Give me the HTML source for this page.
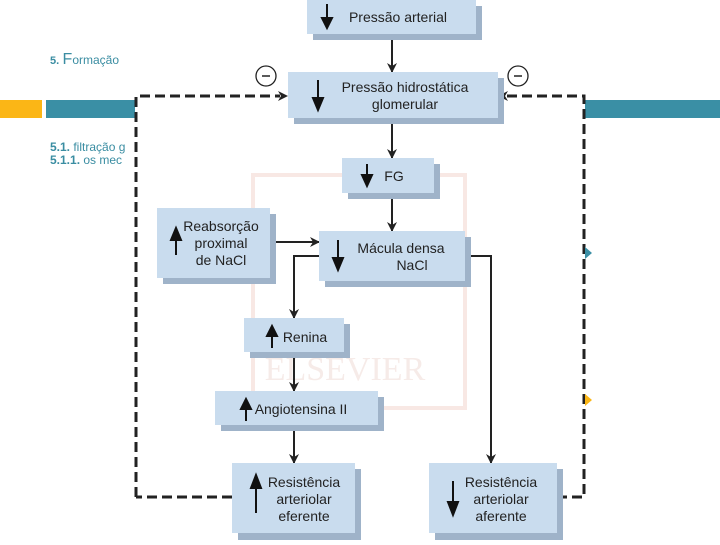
<!DOCTYPE html>
<html><head><meta charset="utf-8"><style>
body{margin:0;width:720px;height:540px;overflow:hidden;background:#fff;font-family:"Liberation Sans",sans-serif}
</style></head><body>
<svg width="720" height="540" xmlns="http://www.w3.org/2000/svg" font-family="Liberation Sans, sans-serif">
<defs>
<marker id="a" markerWidth="10" markerHeight="10" refX="9" refY="5" orient="auto" markerUnits="userSpaceOnUse"><path d="M0,0 L10,5 L0,10 L3,5 Z" fill="#222"/></marker>
</defs>
<text x="50" y="64" fill="#3a8da2" font-size="12"><tspan font-weight="bold" font-size="11">5.</tspan> <tspan font-size="16">F</tspan>ormação</text>
<rect x="0" y="100" width="42" height="18" fill="#fbb616"/>
<rect x="46" y="100" width="89" height="18" fill="#3a8fa5"/>
<rect x="585" y="100" width="135" height="18" fill="#3a8fa5"/>
<text x="50" y="151" fill="#3a8da2" font-size="12"><tspan font-weight="bold">5.1.</tspan> filtração g</text>
<text x="50" y="164" fill="#3a8da2" font-size="12"><tspan font-weight="bold">5.1.1.</tspan> os mec</text>
<rect x="253" y="175" width="212" height="233" fill="none" stroke="#f8e8e4" stroke-width="4"/>
<text x="345" y="380" fill="#f6ebe8" font-size="34" font-family="Liberation Serif, serif" text-anchor="middle">ELSEVIER</text>
<g fill="none" stroke="#222" stroke-width="3" stroke-dasharray="10,5">
<path d="M136,497 V96 H280"/>
<path d="M232,497 H136"/>
<path d="M557,497 H584 V96 H506"/>
</g>
<path d="M278,91 L288,96 L278,101 L281,96Z" fill="#222"/>
<path d="M508,91 L498,96 L508,101 L505,96Z" fill="#222"/>
<circle cx="266" cy="76" r="10" fill="#fff" stroke="#222" stroke-width="1.3"/><line x1="262" y1="76" x2="270" y2="76" stroke="#222" stroke-width="1.5"/>
<circle cx="518" cy="76" r="10" fill="#fff" stroke="#222" stroke-width="1.3"/><line x1="514" y1="76" x2="522" y2="76" stroke="#222" stroke-width="1.5"/>
<g fill="none" stroke="#222" stroke-width="2" marker-end="url(#a)">
<path d="M392,34 V72"/><path d="M392,118 V158"/><path d="M392,193 V231"/>
<path d="M270,242 H319"/>
<path d="M319,256 H294 V318"/>
<path d="M294,352 V391"/><path d="M294,425 V463"/>
<path d="M465,256 H491 V463"/>
</g>
<g fill="#9fb3c9">
<rect x="313" y="6" width="169" height="34"/>
<rect x="294" y="78" width="210" height="46"/>
<rect x="348" y="164" width="92" height="35"/>
<rect x="163" y="214" width="113" height="70"/>
<rect x="325" y="237" width="146" height="50"/>
<rect x="250" y="324" width="100" height="34"/>
<rect x="221" y="397" width="163" height="34"/>
<rect x="238" y="469" width="123" height="71"/>
<rect x="435" y="469" width="128" height="71"/>
</g>
<g fill="#c9dcee">
<rect x="307" y="0" width="169" height="34"/>
<rect x="288" y="72" width="210" height="46"/>
<rect x="342" y="158" width="92" height="35"/>
<rect x="157" y="208" width="113" height="70"/>
<rect x="319" y="231" width="146" height="50"/>
<rect x="244" y="318" width="100" height="34"/>
<rect x="215" y="391" width="163" height="34"/>
<rect x="232" y="463" width="123" height="70"/>
<rect x="429" y="463" width="128" height="70"/>
</g>
<g fill="#222" font-size="14" text-anchor="middle">
<text x="398" y="22">Pressão arterial</text>
<text x="405" y="92">Pressão hidrostática</text><text x="405" y="109">glomerular</text>
<text x="394" y="181">FG</text>
<text x="221" y="231">Reabsorção</text><text x="221" y="248">proximal</text><text x="221" y="265">de NaCl</text>
<text x="401" y="253">Mácula densa</text><text x="412" y="270">NaCl</text>
<text x="305" y="342">Renina</text>
<text x="301" y="414">Angiotensina II</text>
<text x="304" y="487">Resistência</text><text x="304" y="504">arteriolar</text><text x="304" y="521">eferente</text>
<text x="501" y="487">Resistência</text><text x="501" y="504">arteriolar</text><text x="501" y="521">aferente</text>
</g>
<g stroke="#111" stroke-width="2" fill="#111">
<line x1="327" y1="4" x2="327" y2="22"/><path d="M322,18 L327,28 L332,18Z"/>
<line x1="318" y1="80" x2="318" y2="100"/><path d="M313,98 L318,110 L323,98Z"/>
<line x1="367" y1="164" x2="367" y2="177"/><path d="M362,175 L367,186 L372,175Z"/>
<line x1="176" y1="237" x2="176" y2="255"/><path d="M171,240 L176,228 L181,240Z"/>
<line x1="338" y1="240" x2="338" y2="260"/><path d="M333,258 L338,270 L343,258Z"/>
<line x1="272" y1="333" x2="272" y2="348"/><path d="M267,336 L272,326 L277,336Z"/>
<line x1="246" y1="406" x2="246" y2="421"/><path d="M241,409 L246,399 L251,409Z"/>
<line x1="256" y1="485" x2="256" y2="513"/><path d="M251,488 L256,475 L261,488Z"/>
<line x1="453" y1="481" x2="453" y2="505"/><path d="M448,502 L453,515 L458,502Z"/>
</g>
<path d="M585,247 L592,253 L585,259Z" fill="#3a8fa5"/>
<path d="M585,394 L592,400 L585,406Z" fill="#fbb616"/>
</svg>
</body></html>
